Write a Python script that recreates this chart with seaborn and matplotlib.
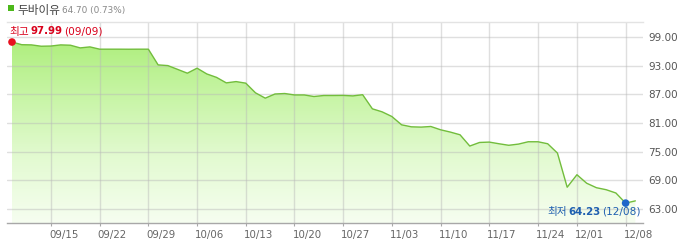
import numpy as np
import pandas as pd
import matplotlib
matplotlib.use('Agg')
import matplotlib.pyplot as plt
import matplotlib.transforms as mtrans
from matplotlib.patches import Polygon, Rectangle
from matplotlib.colors import LinearSegmentedColormap
import seaborn as sns

# ---------------- data ----------------
title_name = "두바이유"
title_info = "64.70 (0.73%)"
holidays = ["2014-11-27"]
dates = [d for d in pd.bdate_range("2014-09-09", "2014-12-09") if d.strftime("%Y-%m-%d") not in holidays]
values = [97.99, 97.43, 97.39, 97.11, 97.15, 97.39, 97.32, 96.76, 96.97, 96.49,
          96.49, 96.49, 96.48, 96.49, 96.49, 93.20, 93.05, 92.26, 91.46, 92.51,
          91.30, 90.58, 89.43, 89.70, 89.37, 87.34, 86.23, 87.10, 87.20, 86.90,
          86.90, 86.57, 86.78, 86.78, 86.80, 86.70, 86.95, 83.99, 83.36, 82.38,
          80.64, 80.22, 80.16, 80.29, 79.60, 79.12, 78.55, 76.19, 76.94, 77.02,
          76.67, 76.35, 76.60, 77.09, 77.09, 76.67, 74.72, 67.56, 70.18, 68.40,
          67.46, 67.04, 66.35, 64.23, 64.70]
y_ticks = [63, 69, 75, 81, 87, 93, 99]
high_label = ("최고", "97.99", "(09/09)")
low_label = ("최저", "64.23", "(12/08)")

# ---------------- figure ----------------
sns.set_theme(style="white")
plt.rcParams['font.family'] = ['DejaVu Sans']
KFONT = ['Noto Sans CJK KR', 'DejaVu Sans']

W, H = 697, 249
fig = plt.figure(figsize=(W / 100, H / 100), dpi=100)
fx = lambda px: px / W
fy = lambda py: 1 - py / H

ax_l, ax_r, ax_t, ax_b = 7, 643, 21.7, 223.3
ax = fig.add_axes([fx(ax_l), fy(ax_b), (ax_r - ax_l) / W, (ax_b - ax_t) / H])

df = pd.DataFrame({"idx": np.arange(len(values)), "value": values,
                   "date": [d.strftime("%m/%d") for d in dates]})

ppi = 9.74  # pixels per index
xl = -(12 - ax_l) / ppi
xr = xl + (ax_r - ax_l) / ppi
ylo, yhi = 60.0, 102.25

# gradient fill
cmap = LinearSegmentedColormap.from_list("g", ["#f6fef0", "#e2fad0", "#c4f4a0", "#a6ec70"])
grad = np.linspace(0, 1, 256).reshape(-1, 1)
im = ax.imshow(grad, extent=[xl, xr, ylo, yhi], origin='lower', aspect='auto',
               cmap=cmap, zorder=1, interpolation='bilinear')
verts = np.column_stack([np.r_[df.idx, df.idx[::-1]],
                         np.r_[df.value, np.full(len(df), ylo)]])
patch = Polygon(verts, closed=True, facecolor='none', edgecolor='none', transform=ax.transData)
ax.add_patch(patch)
im.set_clip_path(patch)

sns.lineplot(data=df, x="idx", y="value", ax=ax, color="#72bd3c", lw=1.0, zorder=3)

hi_i = int(np.argmax(values)); lo_i = int(np.argmin(values))
sns.scatterplot(x=[hi_i], y=[values[hi_i]], ax=ax, color="#e8101e", s=30,
                edgecolor='none', zorder=5, clip_on=False)
sns.scatterplot(x=[lo_i], y=[values[lo_i]], ax=ax, color="#1f66c9", s=30,
                edgecolor='none', zorder=5, clip_on=False)

ax.set_xlim(xl, xr)
ax.set_ylim(ylo, yhi)
ax.set_xlabel(""); ax.set_ylabel("")

# ticks
tick_idx = [i for i, d in enumerate(dates) if d.weekday() == 0]
ax.set_xticks(tick_idx)
ax.set_xticklabels([df.date[i] for i in tick_idx])
ax.set_yticks(y_ticks)
ax.set_yticklabels([f"{v:.2f}" for v in y_ticks])
ax.yaxis.tick_right()
ax.tick_params(axis='x', length=2.2, width=0.8, color='#a8a8a8', pad=2.5,
               labelsize=7.4, labelcolor='#666666', direction='out', bottom=True)
ax.tick_params(axis='y', length=0, pad=3.6, labelsize=7.5, labelcolor='#555555')
off = mtrans.ScaledTranslation(-2 / 100, 0, fig.dpi_scale_trans)
for lab in ax.get_xticklabels():
    lab.set_horizontalalignment('left')
    lab.set_transform(lab.get_transform() + off)

ax.set_axisbelow('line')
ax.grid(True, color='#b8b8b8', alpha=0.45, lw=1.0)
for s in ['left', 'right']:
    ax.spines[s].set_visible(False)
ax.spines['top'].set_color('#e3e3e3'); ax.spines['top'].set_linewidth(1.0)
ax.spines['bottom'].set_color('#a8a8a8'); ax.spines['bottom'].set_linewidth(1.0)

# header
fig.patches.append(Rectangle((fx(8), fy(11.5)), 6 / W, 6 / H, transform=fig.transFigure,
                             facecolor='#4cb81a', edgecolor='none'))
fig.canvas.draw()
r = fig.canvas.get_renderer()

def seq(parts, x, y):
    for s, kw in parts:
        t = fig.text(fx(x), fy(y), s, va='center', ha='left', **kw)
        bb = t.get_window_extent(r)
        x += bb.width + 1.5

seq([(title_name, dict(fontsize=8.4, color='#444444', family=KFONT)),
     (title_info, dict(fontsize=6.4, color='#888888'))], 17, 10.5)

red = '#d9001b'
seq([(high_label[0], dict(fontsize=7.7, color=red, family=KFONT)),
     (high_label[1], dict(fontsize=7.4, color=red, weight='bold')),
     (high_label[2], dict(fontsize=7.6, color=red))], 9, 31.5)

blue = '#2060b0'
seq([(low_label[0], dict(fontsize=7.7, color=blue, family=KFONT)),
     (low_label[1], dict(fontsize=7.4, color=blue, weight='bold')),
     (low_label[2], dict(fontsize=7.6, color=blue))], 547, 211.7)

fig.savefig("out.png", dpi=100)
